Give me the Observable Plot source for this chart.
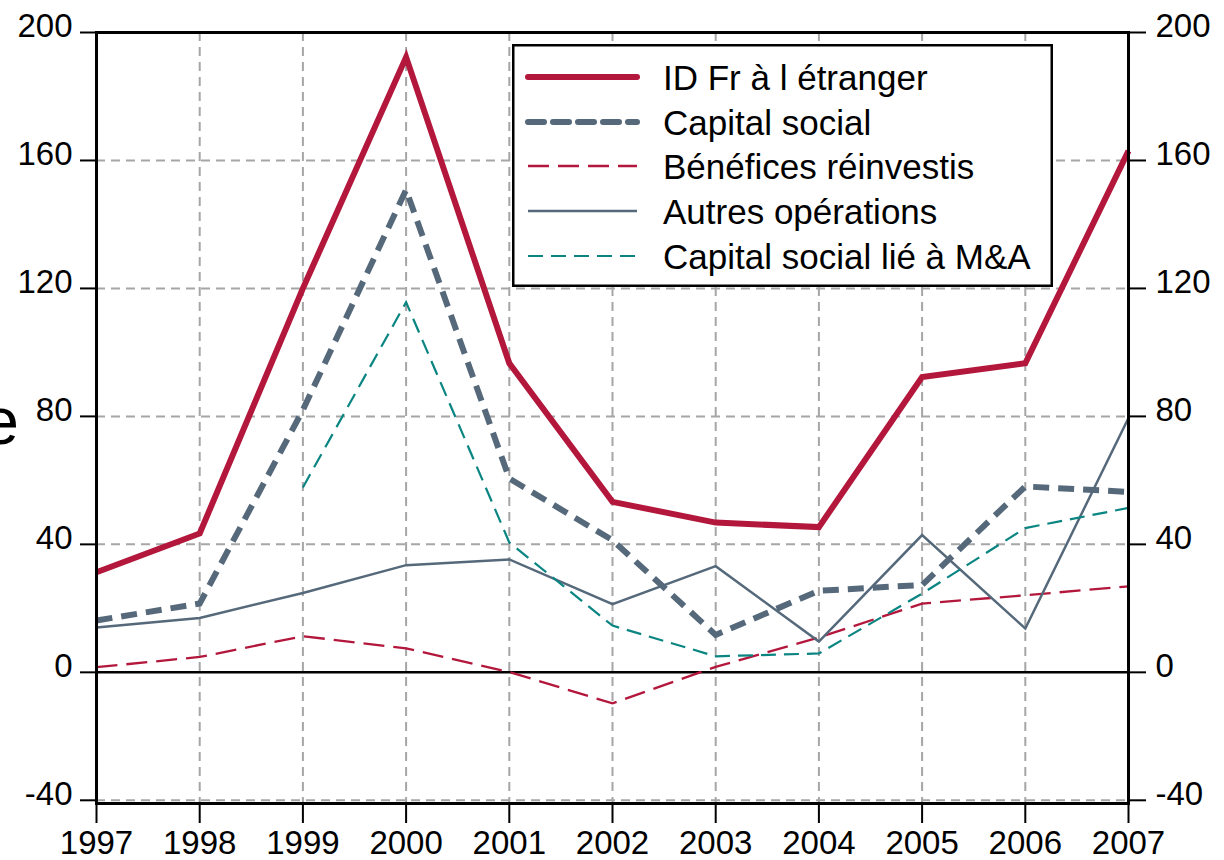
<!DOCTYPE html>
<html><head><meta charset="utf-8">
<script src="https://cdn.jsdelivr.net/npm/d3@7"></script>
<script src="https://cdn.jsdelivr.net/npm/@observablehq/plot@0.6"></script>
<style>
html,body{margin:0;padding:0;background:#fff;}
#wrap{position:relative;width:1224px;height:860px;overflow:hidden;font-family:"Liberation Sans",Arial,sans-serif;}
#legend{position:absolute;left:512px;top:44px;}
</style></head><body><div id="wrap"></div>
<script>
// ---- data ----
const years = [1997, 1998, 1999, 2000, 2001, 2002, 2003, 2004, 2005, 2006, 2007];
const idFr = [31.3, 43.4, 120, 192.3, 96.6, 53.3, 46.8, 45.4, 92.3, 96.6, 163];
const capitalSocial = [16.2, 21.5, 82, 150.8, 60.6, 41.3, 11.7, 25.5, 27.3, 58.1, 56.4];
const benefices = [1.6, 4.8, 11.3, 7.5, 0.1, -9.7, 1.7, 10.9, 21.5, 24.1, 26.9];
const autres = [14, 17, 24.8, 33.5, 35.3, 21.3, 33.2, 9.6, 42.9, 13.7, 79.5];
const mna = [null, null, 57.8, 115.7, 40.6, 14.6, 5, 5.9, 24.6, 45.1, 51.4];
const yTicks = [-40, 0, 40, 80, 120, 160, 200];
const yGrid = [-40, 40, 80, 120, 160];
const xGrid = [1998, 1999, 2000, 2001, 2002, 2003, 2004, 2005, 2006];
const seriesNames = ["ID Fr à l étranger", "Capital social", "Bénéfices réinvestis", "Autres opérations", "Capital social lié à M&A"];
const sideLabel = "e";

// ---- styles ----
const CRIMSON = "#b3173b", SLATE = "#56697b", TEAL = "#0a8582";
const styles = [
  {stroke: CRIMSON, strokeWidth: 6, strokeDasharray: null},
  {stroke: SLATE, strokeWidth: 6, strokeDasharray: "16,9"},
  {stroke: CRIMSON, strokeWidth: 2.3, strokeDasharray: "21,9"},
  {stroke: SLATE, strokeWidth: 2.5, strokeDasharray: null},
  {stroke: TEAL, strokeWidth: 2.2, strokeDasharray: "15,8"}
];

const rows = years.map((y, i) => ({year: y, idFr: idFr[i], capitalSocial: capitalSocial[i], benefices: benefices[i], autres: autres[i], mna: mna[i]}));
const keys = ["idFr", "capitalSocial", "benefices", "autres", "mna"];

const FONT = '"Liberation Sans", Arial, sans-serif';
const gridStyle = {stroke: "#a6a6a6", strokeOpacity: 1, strokeWidth: 2, strokeDasharray: "9,6"};

const chart = Plot.plot({
  width: 1224, height: 860,
  marginLeft: 96, marginRight: 96, marginTop: 32, marginBottom: 57,
  style: {fontFamily: FONT, background: "#fff", color: "#000", overflow: "visible"},
  x: {domain: [1997, 2007], axis: null},
  y: {domain: [-41, 200], axis: null},
  marks: [
    Plot.gridX(xGrid, gridStyle),
    Plot.gridY(yGrid, gridStyle),
    Plot.ruleY([0], {stroke: "#000", strokeWidth: 2.5}),
    ...keys.map((k, i) => Plot.line(rows.filter(r => r[k] != null), {
      x: "year", y: k,
      stroke: styles[i].stroke, strokeWidth: styles[i].strokeWidth,
      strokeDasharray: styles[i].strokeDasharray,
      strokeLinejoin: "miter", strokeLinecap: "butt", strokeMiterlimit: 10
    })),
    Plot.frame({stroke: "#000", strokeWidth: 3}),
    Plot.axisY(yTicks, {anchor: "left", tickSize: 16, tickPadding: 8, fontSize: 33, strokeWidth: 2, label: null, tickFormat: d => String(d)}),
    Plot.axisY(yTicks, {anchor: "right", tickSize: 17, tickPadding: 10, fontSize: 33, strokeWidth: 2, label: null, tickFormat: d => String(d)}),
    Plot.axisX(years, {anchor: "bottom", tickSize: 20, tickPadding: 7, fontSize: 33, strokeWidth: 2, label: null, tickFormat: d => String(d)})
  ]
});
document.getElementById("wrap").appendChild(chart);

// raise y tick labels slightly, as in the reference
d3.select(chart).selectAll('g[aria-label="y-axis tick label"]').each(function() {
  const g = d3.select(this);
  g.attr("transform", (g.attr("transform") || "") + " translate(0,-6)");
});

// partially visible side label
d3.select(chart).append("text")
  .attr("x", 19).attr("y", 444).attr("text-anchor", "end")
  .attr("font-size", 66).attr("font-family", FONT).attr("fill", "#000")
  .text(sideLabel);

// ---- legend (inside the plot area, top right) ----
const lw = 541, lh = 243;
const leg = d3.select("#wrap").append("svg").attr("id", "legend")
  .attr("width", lw).attr("height", lh);
leg.append("rect").attr("x", 1.25).attr("y", 1.25).attr("width", lw - 2.5).attr("height", lh - 2.5)
  .attr("fill", "#fff").attr("stroke", "#000").attr("stroke-width", 2.5);
const rowY = [33, 78, 122, 167, 212];
seriesNames.forEach((name, i) => {
  const s = styles[i];
  leg.append("line").attr("x1", 16).attr("x2", 125).attr("y1", rowY[i]).attr("y2", rowY[i])
    .attr("stroke", s.stroke).attr("stroke-width", s.strokeWidth)
    .attr("stroke-dasharray", s.strokeDasharray).attr("stroke-linecap", i < 2 ? "round" : "butt");
  leg.append("text").attr("x", 151).attr("y", rowY[i] + 12.5)
    .attr("font-family", FONT).attr("font-size", 35).attr("fill", "#000").text(name);
});
</script>
</body></html>
